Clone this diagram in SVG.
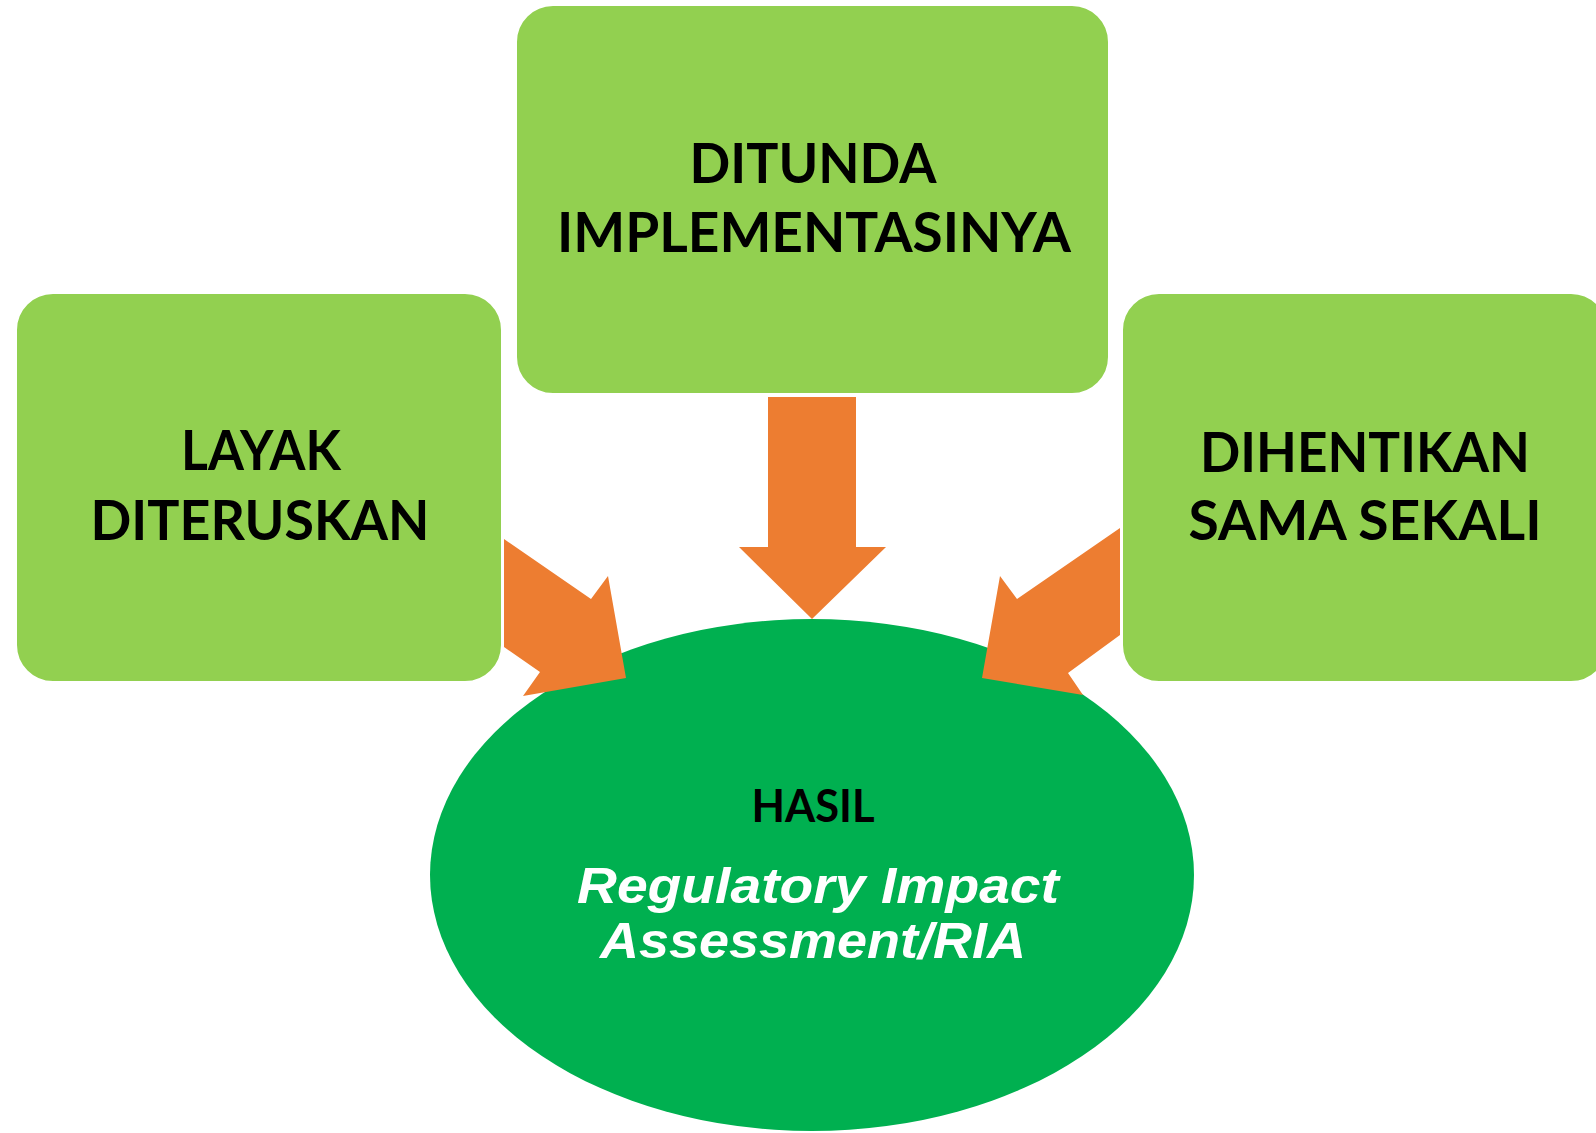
<svg xmlns="http://www.w3.org/2000/svg" width="1596" height="1133" viewBox="0 0 1596 1133">
<style>
.box{fill:#92D050;stroke:#ffffff;stroke-width:2}
.arrow{fill:#ED7D31}
.lbl{font-family:Lato,"Open Sans","Liberation Sans",sans-serif;font-weight:bold;font-size:56px;fill:#000;text-anchor:middle}
.hasil{font-family:Lato,"Open Sans","Liberation Sans",sans-serif;font-weight:bold;font-size:46px;fill:#000;text-anchor:middle}
.ria{font-family:"Liberation Sans",Arial,sans-serif;font-weight:bold;font-style:italic;font-size:50px;fill:#fff;text-anchor:middle}
</style>
<rect width="1596" height="1133" fill="#fff"/>
<g id="hasil">
<ellipse cx="812" cy="875" rx="382" ry="256" fill="#00B050"/>
<text class="hasil" x="813" y="822" textLength="123" lengthAdjust="spacingAndGlyphs">HASIL</text>
<text class="ria" x="818" y="903" textLength="482" lengthAdjust="spacingAndGlyphs">Regulatory Impact</text>
<text class="ria" x="813" y="958" textLength="426" lengthAdjust="spacingAndGlyphs">Assessment/RIA</text>
</g>
<g id="connectors">
<polygon class="arrow" points="768,397 856,397 856,547 886,547 812,619 739,547 768,547"/>
<polygon class="arrow" points="504,539 591,599 608,576 626,678 523,696 540,672 504,647"/>
<polygon class="arrow" points="1120,528 1017,599 1000,576 982,678 1083,695 1068,673 1120,635"/>
</g>
<g id="ditunda">
<rect class="box" x="516" y="5" width="593" height="389" rx="37" ry="37"/>
<text class="lbl" x="813" y="183" textLength="247" lengthAdjust="spacingAndGlyphs">DITUNDA</text>
<text class="lbl" x="814" y="252" textLength="514" lengthAdjust="spacingAndGlyphs">IMPLEMENTASINYA</text>
</g>
<g id="layak">
<rect class="box" x="16" y="293" width="486" height="389" rx="37" ry="37"/>
<text class="lbl" x="261" y="470" textLength="160" lengthAdjust="spacingAndGlyphs">LAYAK</text>
<text class="lbl" x="260" y="540" textLength="339" lengthAdjust="spacingAndGlyphs">DITERUSKAN</text>
</g>
<g id="dihentikan">
<rect class="box" x="1122" y="293" width="486" height="389" rx="37" ry="37"/>
<text class="lbl" x="1365" y="472" textLength="330" lengthAdjust="spacingAndGlyphs">DIHENTIKAN</text>
<text class="lbl" x="1365" y="540" textLength="353" lengthAdjust="spacingAndGlyphs">SAMA SEKALI</text>
</g>
</svg>
